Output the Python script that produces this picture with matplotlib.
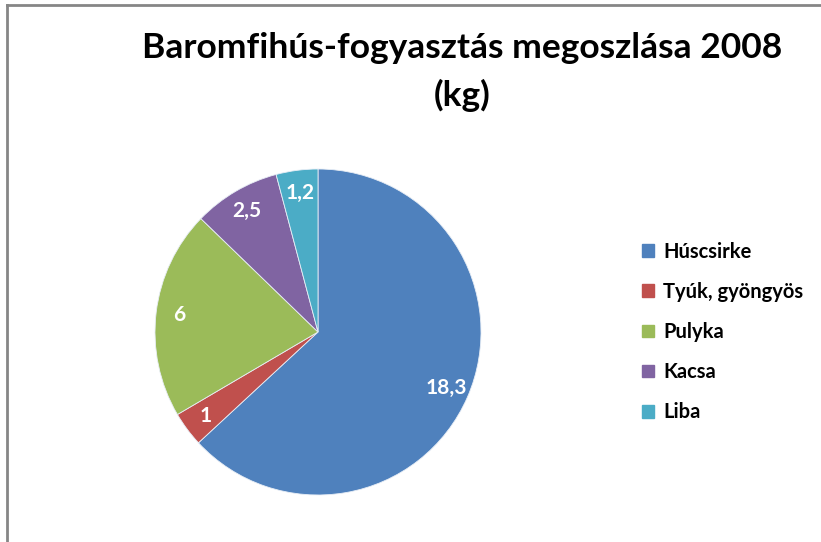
import matplotlib
matplotlib.use("Agg")
import matplotlib.pyplot as plt
from matplotlib.patches import Patch
from matplotlib.lines import Line2D

"Baromfihús-fogyasztás 2008"

categories = ["Húscsirke", "Tyúk, gyöngyös", "Pulyka", "Kacsa", "Liba"]
values = [18.3, 1, 6, 2.5, 1.2]
colors = ["#4F81BD", "#C0504D", "#9BBB59", "#8064A2", "#4BACC6"]

plt.rcParams['font.family'] = ['Lato', 'DejaVu Sans']

total = sum(values)


def fmt(pct):
    v = round(pct * total / 100, 1)
    s = ("%.1f" % v).rstrip('0').rstrip('.')
    return s.replace('.', ',')


fig = plt.figure(figsize=(8.21, 5.42), dpi=100)
ax = fig.add_axes([155 / 821, 47 / 542, 326 / 821, 326 / 542])
wedges, texts, autotexts = ax.pie(values, colors=colors, startangle=90,
                                  counterclock=False, autopct=fmt,
                                  pctdistance=0.86,
                                  wedgeprops=dict(edgecolor="#e8eef6", linewidth=0.6),
                                  textprops=dict(color="white", fontsize=15,
                                                 fontweight="bold"))
ax.set_xlim(-1, 1)
ax.set_ylim(-1, 1)

fig.text(0.563, 0.911, "Baromfihús-fogyasztás megoszlása 2008", ha="center",
         va="center", fontsize=25.5, fontweight="bold")
fig.text(0.563, 0.824, "(kg)", ha="center", va="center", fontsize=25.5,
         fontweight="bold")

handles = [Patch(facecolor=c, edgecolor=c) for c in colors]
fig.legend(handles, categories, loc="center left",
           bbox_to_anchor=(624 / 821, 1 - 332 / 542), frameon=False,
           prop=dict(size=14.5, weight="bold"), labelspacing=1.0,
           handlelength=0.6, handleheight=0.6, handletextpad=0.45)

# chart frame (left and top edges visible)
fig.add_artist(Line2D([6.5 / 821, 6.5 / 821], [0, 1 - 4.5 / 542],
                      transform=fig.transFigure, color="#868686", lw=2))
fig.add_artist(Line2D([6.5 / 821, 1], [1 - 4.5 / 542, 1 - 4.5 / 542],
                      transform=fig.transFigure, color="#868686", lw=2))

fig.savefig("out.png", dpi=100)
